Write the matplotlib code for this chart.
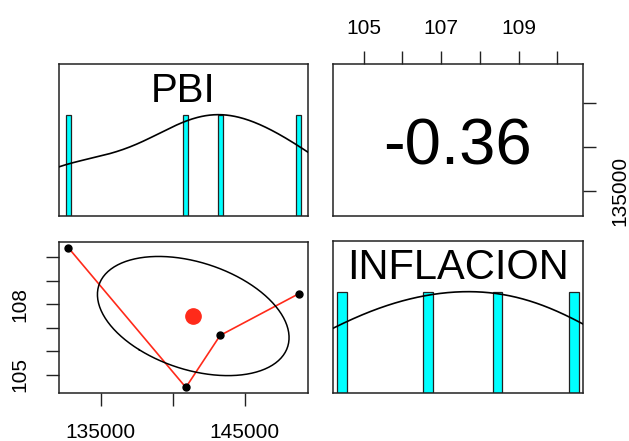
import numpy as np
import matplotlib
matplotlib.use("Agg")
import matplotlib.pyplot as plt
from matplotlib.patches import Rectangle

plt.rcParams['font.family'] = ['Liberation Sans', 'DejaVu Sans']

# quarterly values
names = ["PBI", "INFLACION"]
pbi = np.array([132750, 140924, 143306, 148771])
inflacion = np.array([110.42, 104.45, 106.67, 108.45])

pbi_ticks = [135000, 140000, 145000]
pbi_labels_bottom = ["135000", "", "145000"]
pbi_labels_right = ["135000", "", ""]
inf_ticks = [105, 106, 107, 108, 109, 110]
inf_labels_top = ["105", "", "107", "", "109", ""]
inf_labels_left = ["105", "", "", "108", "", ""]

bar_w = {"PBI": 360, "INFLACION": 0.25}

INK = "#222222"
FS = 15


def rlim(v):
    # R style axis range: data range padded by 4%
    lo, hi = v.min(), v.max()
    pad = (hi - lo) * 0.04
    return lo - pad, hi + pad


def kde(v, grid):
    # gaussian density, bw.nrd with adjust = 1.2
    n = len(v)
    q1, q3 = np.percentile(v, [25, 75])
    s = min(v.std(ddof=1), (q3 - q1) / 1.34)
    bw = 1.06 * s * n ** -0.2 * 1.2
    z = (grid[:, None] - v[None, :]) / bw
    return np.exp(-0.5 * z ** 2).sum(axis=1) / (n * bw * np.sqrt(2 * np.pi))


def style(ax):
    for sp in ax.spines.values():
        sp.set_color(INK)
        sp.set_linewidth(1.1)
    ax.tick_params(length=9.5, width=1.0, color=INK, labelsize=FS, pad=12)
    ax.set_xticks([])
    ax.set_yticks([])


def diag(ax, v, name):
    lo, hi = rlim(v)
    vals, counts = np.unique(v, return_counts=True)
    w = bar_w[name]
    for x, c in zip(vals, counts):
        ax.add_patch(Rectangle((x - w / 2, 0), w, c, facecolor="#00FFFF",
                               edgecolor=INK, linewidth=0.9, zorder=2))
    grid = np.linspace(lo, hi, 300)
    d = kde(v, grid)
    ax.plot(grid, d * counts.max() / d.max(), color="black", lw=1.2, zorder=3)
    ax.set_xlim(lo, hi)
    ax.set_ylim(0, counts.max() * 1.5)
    ax.text(0.5, 0.82, name, transform=ax.transAxes, ha="center", va="center",
            fontsize=29 if name == "PBI" else 30)


W, H = 629, 441
fig = plt.figure(figsize=(W / 100, H / 100), dpi=100)


def box(x0, y0, x1, y1):
    return fig.add_axes([x0 / W, 1 - y1 / H, (x1 - x0) / W, (y1 - y0) / H])


ax_tl = box(59, 64, 308, 216)
ax_tr = box(333, 64, 583, 216)
ax_bl = box(59, 242, 308, 393)
ax_br = box(333, 241, 583, 393)
for a in (ax_tl, ax_tr, ax_bl, ax_br):
    style(a)

diag(ax_tl, pbi, "PBI")
diag(ax_br, inflacion, "INFLACION")

# correlation panel, with PBI on the right axis and INFLACION on top
r = np.corrcoef(pbi, inflacion)[0, 1]
ax_tr.set_xlim(*rlim(inflacion))
ax_tr.set_ylim(*rlim(pbi))
ax_tr.text(0.5, 0.45, f"{r:.2f}", transform=ax_tr.transAxes,
           ha="center", va="center", fontsize=47)
ax_tr.xaxis.tick_top()
ax_tr.tick_params(axis="x", pad=9)
ax_tr.set_xticks(inf_ticks, inf_labels_top)
ax_tr.yaxis.tick_right()
ax_tr.tick_params(axis="y", pad=10)
ax_tr.set_yticks(pbi_ticks, pbi_labels_right, rotation=90, va="center")

# scatter with smoother and correlation ellipse
order = np.argsort(pbi)
ax_bl.plot(pbi[order], inflacion[order], color="#FF2A1A", lw=1.2, zorder=2)
ax_bl.plot(pbi, inflacion, "o", color="black", ms=5, zorder=3)
xm, ym = pbi.mean(), inflacion.mean()
xs, ys = pbi.std(ddof=1), inflacion.std(ddof=1)
ax_bl.plot(xm, ym, "o", color="#FF2A1A", ms=11, zorder=3)
t = np.linspace(0, 2 * np.pi, 101)
th = np.sign(r) / np.sqrt(2)
a, b = np.sqrt(1 + r), np.sqrt(1 - r)
ex = (np.cos(t) * a * th - np.sin(t) * b * th) * xs + xm
ey = (np.cos(t) * a * th + np.sin(t) * b * th) * ys + ym
ax_bl.plot(ex, ey, color="black", lw=1.1, zorder=2)
ax_bl.set_xlim(*rlim(pbi))
ax_bl.set_ylim(*rlim(inflacion))
ax_bl.set_xticks(pbi_ticks, pbi_labels_bottom)
ax_bl.set_yticks(inf_ticks, inf_labels_left, rotation=90, va="center")

fig.savefig("out.png", dpi=100)
